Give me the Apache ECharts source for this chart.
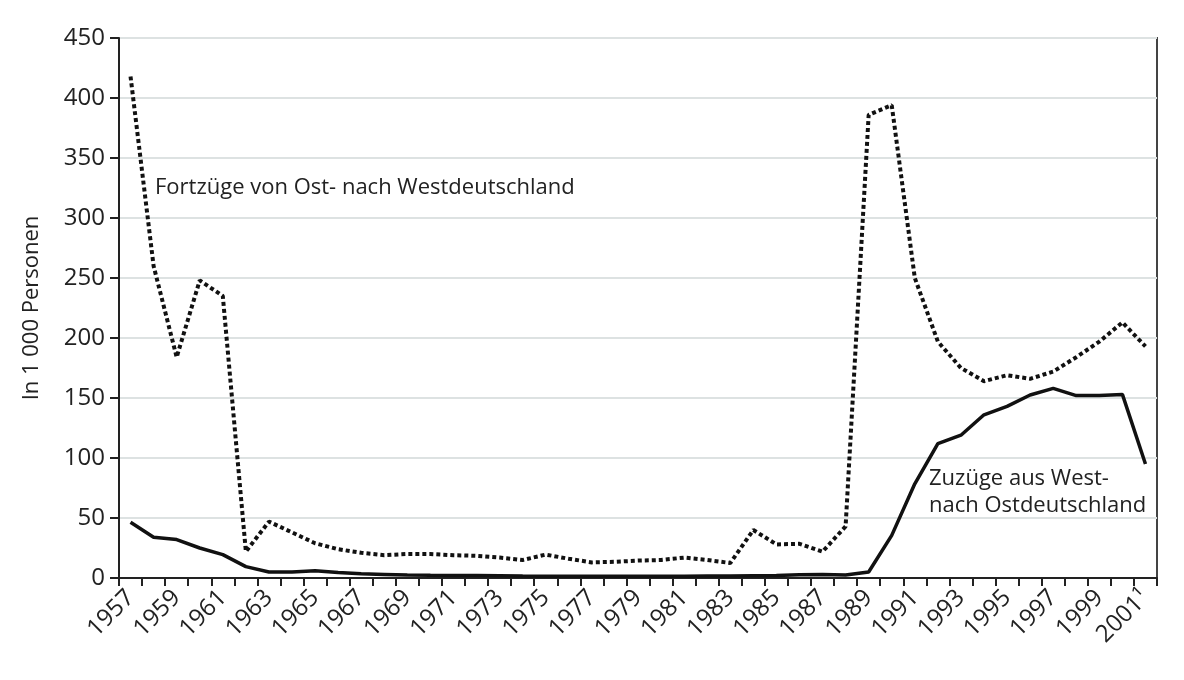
<!DOCTYPE html>
<html>
<head>
<meta charset="utf-8">
<script src="https://cdn.jsdelivr.net/npm/echarts@6/dist/echarts.min.js"></script>
<style>
  html, body { margin: 0; padding: 0; background: #fff; }
  #main { width: 1184px; height: 680px; }
</style>
</head>
<body>
<div id="main"></div>
<script>
var years = [];
for (var y = 1957; y <= 2001; y++) years.push(String(y));

// Fortzüge von Ost- nach Westdeutschland (in 1 000)
var fortzuege = [418, 260, 184, 248, 235, 22, 47, 38, 29, 24, 21, 19, 20, 20, 19, 18.5, 17, 15, 19.5, 16, 13, 13.5, 14.5, 15, 17, 15, 12.5,
  40, 28, 28.5, 22, 43, 386, 394, 250, 197, 175, 164, 169, 166, 172, 184, 197, 213, 193];

// Zuzüge aus West- nach Ostdeutschland (in 1 000)
var zuzuege = [46.5, 34, 32, 25, 19.5, 9.5, 5, 5, 6, 4.5, 3.5, 3, 2.5, 2.2, 2, 2, 1.8, 1.6, 1.5, 1.5, 1.4, 1.4, 1.5, 1.5, 1.5, 1.6, 1.6,
  1.8, 2, 2.8, 3, 2.5, 5, 35.5, 78.5, 112, 119, 136, 143, 152.5, 158, 152, 152, 153, 95];

var yTicks = { min: 0, max: 450, interval: 50 };

var myChart = echarts.init(document.getElementById('main'));
var font = 'Open Sans';

var option = {
  animation: false,
  textStyle: { fontFamily: font },
  grid: {
    left: 119, right: 27, top: 38, bottom: 102,
    show: true, borderColor: '#444', borderWidth: 2
  },
  xAxis: {
    type: 'category',
    data: years,
    boundaryGap: true,
    axisLine: { lineStyle: { color: '#222', width: 2 } },
    axisTick: { show: true, interval: 0, length: 8, lineStyle: { color: '#222', width: 2 } },
    axisLabel: {
      interval: 1,
      rotate: 45,
      margin: 16,
      fontSize: 24,
      fontFamily: font,
      color: '#222',
      formatter: function (v) { return v === '2001' ? '2001¹' : v; }
    },
    splitLine: { show: false }
  },
  yAxis: {
    type: 'value',
    min: yTicks.min, max: yTicks.max, interval: yTicks.interval,
    name: 'In 1 000 Personen',
    nameLocation: 'middle',
    nameGap: 76,
    nameTextStyle: { fontSize: 22, color: '#222', fontFamily: font },
    axisLine: { show: true, lineStyle: { color: '#222', width: 2 } },
    axisTick: { show: true, length: 9, lineStyle: { color: '#222', width: 2 } },
    axisLabel: { fontSize: 24, color: '#222', margin: 14, fontFamily: font },
    splitLine: { show: true, lineStyle: { color: '#dde2e2', width: 2 } }
  },
  series: [
    {
      name: 'Fortzüge von Ost- nach Westdeutschland',
      type: 'line',
      data: fortzuege,
      symbol: 'none',
      lineStyle: { color: '#111', width: 4, type: [4, 3], cap: 'butt' },
      z: 3
    },
    {
      name: 'Zuzüge aus West- nach Ostdeutschland',
      type: 'line',
      data: zuzuege,
      symbol: 'none',
      lineStyle: { color: '#111', width: 3.5 },
      z: 4
    }
  ],
  graphic: [
    {
      type: 'text', left: 155, top: 177,
      style: { text: 'Fortzüge von Ost- nach Westdeutschland', font: '22px "Open Sans"', fill: '#222' }
    },
    {
      type: 'text', left: 929, top: 465,
      style: { text: 'Zuzüge aus West-\nnach Ostdeutschland', font: '22px "Open Sans"', fill: '#222', lineHeight: 27 }
    }
  ]
};

myChart.setOption(option);
</script>
</body>
</html>
